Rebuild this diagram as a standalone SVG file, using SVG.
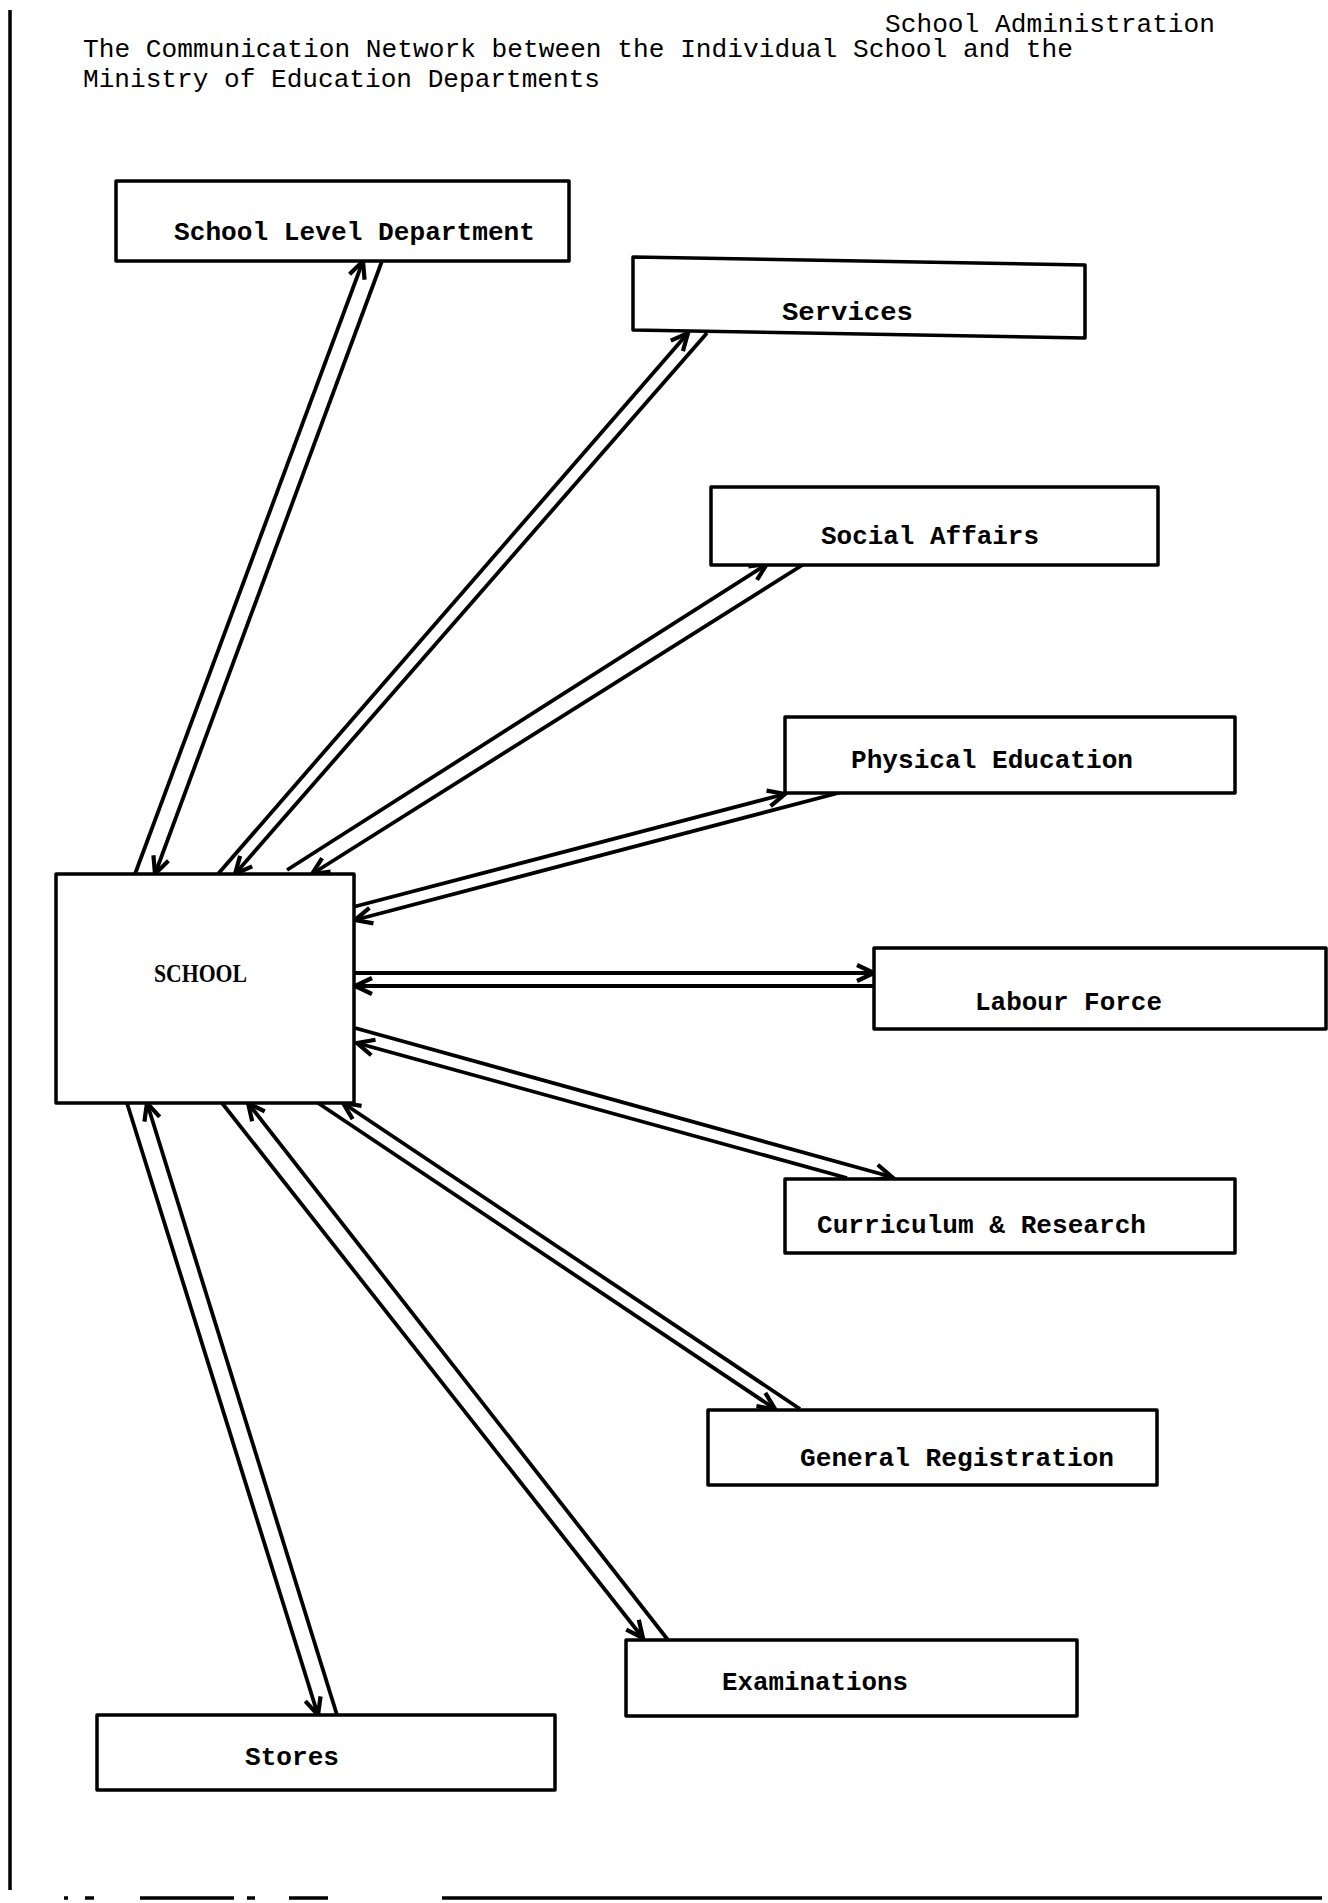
<svg xmlns="http://www.w3.org/2000/svg" width="1328" height="1903" viewBox="0 0 1328 1903">
  <style>
    .box { fill: #fff; stroke: #000; stroke-width: 3.5; stroke-linejoin: round; }
    .lbl { font-family: "Liberation Mono", "Courier New", monospace; font-size: 26px; font-weight: bold; fill: #000; }
    .ttl { font-family: "Liberation Mono", "Courier New", monospace; font-size: 26px; fill: #000; }
    .link { stroke: #000; stroke-width: 3.8; fill: none; marker-end: url(#arrow); }
    .frame { stroke: #000; stroke-width: 3.5; fill: none; }
  </style>
  <defs>
    <marker id="arrow" markerUnits="userSpaceOnUse" viewBox="-20 -10 22 20" refX="0" refY="0" markerWidth="22" markerHeight="20" orient="auto" overflow="visible">
      <path d="M-17,-8 L0,0 L-17,8" fill="none" stroke="#000" stroke-width="4.2" stroke-linejoin="miter"/>
    </marker>
  </defs>

  <rect width="1328" height="1903" fill="#fff"/>

  <!-- page frame: left rule and broken bottom rule -->
  <g id="frame">
    <line class="frame" x1="10" y1="10" x2="10" y2="1890"/>
    <path class="frame" d="M64,1898 H68 M85,1898 H94 M140,1898 H234 M247,1898 H255 M289,1898 H328 M442,1898 H1322"/>
  </g>

  <!-- heading -->
  <g id="heading">
    <text class="ttl" x="885" y="32" textLength="330" lengthAdjust="spacingAndGlyphs">School Administration</text>
    <text class="ttl" x="83" y="57" textLength="990" lengthAdjust="spacingAndGlyphs">The Communication Network between the Individual School and the</text>
    <text class="ttl" x="83" y="87" textLength="517" lengthAdjust="spacingAndGlyphs">Ministry of Education Departments</text>
  </g>

  <!-- two-way links: each pair is one line out, one line back -->
  <g id="connectors">
    <line class="link" x1="135" y1="874" x2="363" y2="261"/>
    <line class="link" x1="382" y1="261" x2="155" y2="874"/>

    <line class="link" x1="218" y1="874" x2="688" y2="333"/>
    <line class="link" x1="707" y1="333" x2="235" y2="874"/>

    <line class="link" x1="287" y1="870" x2="767" y2="564"/>
    <line class="link" x1="804" y1="564" x2="312" y2="874"/>

    <line class="link" x1="353" y1="907" x2="785" y2="794"/>
    <line class="link" x1="842" y1="792" x2="355" y2="920"/>

    <line class="link" x1="355" y1="973" x2="874" y2="973"/>
    <line class="link" x1="874" y1="986" x2="355" y2="986"/>

    <line class="link" x1="355" y1="1028" x2="892" y2="1177"/>
    <line class="link" x1="847" y1="1178" x2="357" y2="1043"/>

    <line class="link" x1="318" y1="1103" x2="775" y2="1409"/>
    <line class="link" x1="800" y1="1409" x2="343" y2="1103"/>

    <line class="link" x1="222" y1="1103" x2="643" y2="1638"/>
    <line class="link" x1="668" y1="1640" x2="248" y2="1103"/>

    <line class="link" x1="127" y1="1103" x2="318" y2="1715"/>
    <line class="link" x1="337" y1="1715" x2="147" y2="1103"/>
  </g>

  <g id="school">
    <rect class="box" x="56" y="874" width="298" height="229"/>
    <text x="154" y="982" font-family="Liberation Serif, Times New Roman, serif" font-size="26" font-weight="bold" textLength="93" lengthAdjust="spacingAndGlyphs">SCHOOL</text>
  </g>

  <g id="school-level-department">
    <rect class="box" x="116" y="181" width="453" height="80"/>
    <text class="lbl" x="174" y="240" textLength="361" lengthAdjust="spacingAndGlyphs">School Level Department</text>
  </g>

  <g id="services">
    <polygon class="box" points="633,257 1085,265 1085,338 633,330"/>
    <text class="lbl" x="782" y="320" textLength="131" lengthAdjust="spacingAndGlyphs">Services</text>
  </g>

  <g id="social-affairs">
    <rect class="box" x="711" y="487" width="447" height="78"/>
    <text class="lbl" x="821" y="544" textLength="218" lengthAdjust="spacingAndGlyphs">Social Affairs</text>
  </g>

  <g id="physical-education">
    <rect class="box" x="785" y="717" width="450" height="76"/>
    <text class="lbl" x="851" y="768" textLength="282" lengthAdjust="spacingAndGlyphs">Physical Education</text>
  </g>

  <g id="labour-force">
    <rect class="box" x="874" y="948" width="452" height="81"/>
    <text class="lbl" x="975" y="1010" textLength="187" lengthAdjust="spacingAndGlyphs">Labour Force</text>
  </g>

  <g id="curriculum-research">
    <rect class="box" x="785" y="1179" width="450" height="74"/>
    <text class="lbl" x="817" y="1233" textLength="329" lengthAdjust="spacingAndGlyphs">Curriculum &amp; Research</text>
  </g>

  <g id="general-registration">
    <rect class="box" x="708" y="1410" width="449" height="75"/>
    <text class="lbl" x="800" y="1466" textLength="314" lengthAdjust="spacingAndGlyphs">General Registration</text>
  </g>

  <g id="examinations">
    <rect class="box" x="626" y="1640" width="451" height="76"/>
    <text class="lbl" x="722" y="1690" textLength="186" lengthAdjust="spacingAndGlyphs">Examinations</text>
  </g>

  <g id="stores">
    <rect class="box" x="97" y="1715" width="458" height="75"/>
    <text class="lbl" x="245" y="1765" textLength="94" lengthAdjust="spacingAndGlyphs">Stores</text>
  </g>
</svg>
